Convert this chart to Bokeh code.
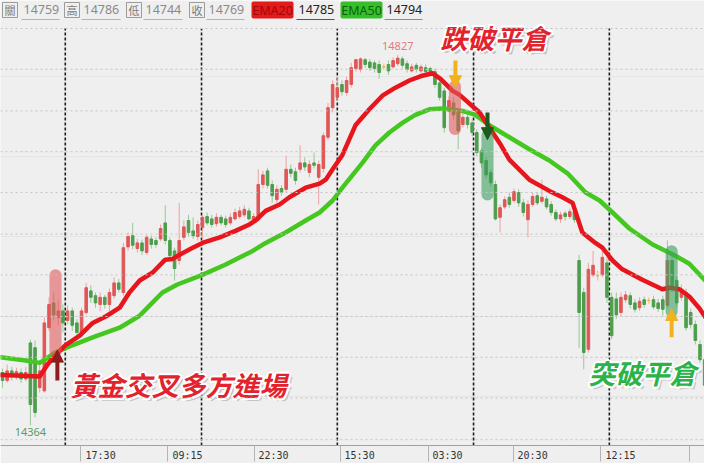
from bokeh.plotting import figure
from bokeh.models import Range1d, FixedTicker, Arrow, NormalHead, Span, Quad
from bokeh.core.properties import value
from bokeh.embed import file_html
from bokeh.resources import INLINE

# ---------------- data ----------------
opens = [14430, 14420, 14432, 14425, 14430, 14422, 14467, 14461, 14411, 14407,
         14486, 14517, 14499, 14507, 14495, 14507, 14492, 14480, 14505, 14532,
         14526, 14515, 14524, 14515, 14526, 14542, 14530, 14587, 14601, 14585,
         14592, 14580, 14597, 14595, 14597, 14617, 14595, 14582, 14570, 14599,
         14620, 14607, 14600, 14611, 14625, 14622, 14616, 14624, 14622, 14617,
         14622, 14625, 14627, 14632, 14620, 14621, 14665, 14682, 14665, 14646,
         14660, 14659, 14684, 14681, 14684, 14692, 14680, 14692, 14674, 14685,
         14724, 14761, 14774, 14790, 14780, 14790, 14810, 14809, 14821, 14818,
         14817, 14815, 14812, 14815, 14812, 14816, 14822, 14816, 14807, 14814,
         14807, 14811, 14810, 14806, 14792, 14782, 14757, 14767, 14755, 14740,
         14749, 14742, 14730, 14707, 14695, 14680, 14665, 14624, 14637, 14649,
         14645, 14655, 14642, 14621, 14640, 14651, 14644, 14647, 14640, 14630,
         14622, 14629, 14625, 14631, 14570, 14530, 14459, 14552, 14551, 14552,
         14567, 14524, 14522, 14505, 14521, 14526, 14517, 14511, 14521, 14520,
         14521, 14517, 14521, 14514, 14570, 14545, 14524, 14530, 14505, 14490,
         14465, 14446]
closes = [14420, 14432, 14425, 14431, 14422, 14430, 14390, 14380, 14432, 14492,
          14515, 14502, 14507, 14492, 14507, 14489, 14480, 14507, 14536, 14524,
          14517, 14524, 14515, 14530, 14542, 14534, 14586, 14600, 14589, 14592,
          14582, 14599, 14590, 14590, 14610, 14595, 14576, 14560, 14595, 14612,
          14605, 14601, 14615, 14624, 14617, 14615, 14624, 14617, 14615, 14624,
          14630, 14632, 14634, 14622, 14625, 14665, 14677, 14664, 14651, 14659,
          14655, 14684, 14679, 14670, 14692, 14687, 14690, 14689, 14690, 14726,
          14761, 14790, 14786, 14781, 14795, 14811, 14821, 14822, 14815, 14811,
          14810, 14805, 14812, 14807, 14820, 14823, 14814, 14809, 14812, 14809,
          14812, 14806, 14805, 14790, 14774, 14736, 14770, 14752, 14732, 14749,
          14740, 14730, 14705, 14692, 14677, 14667, 14622, 14636, 14646, 14640,
          14656, 14642, 14630, 14640, 14650, 14642, 14649, 14637, 14630, 14622,
          14627, 14625, 14631, 14621, 14505, 14455, 14559, 14564, 14551, 14574,
          14524, 14476, 14502, 14524, 14527, 14515, 14509, 14519, 14515, 14520,
          14512, 14510, 14509, 14570, 14534, 14517, 14534, 14486, 14490, 14470,
          14446, 14414]
highs = [14435, 14440, 14437, 14436, 14435, 14437, 14471, 14470, 14440, 14499,
         14524, 14530, 14520, 14515, 14514, 14511, 14497, 14511, 14542, 14539,
         14530, 14530, 14527, 14535, 14549, 14547, 14592, 14605, 14617, 14597,
         14596, 14602, 14601, 14599, 14615, 14639, 14599, 14586, 14642, 14620,
         14627, 14624, 14620, 14627, 14630, 14627, 14629, 14627, 14626, 14629,
         14635, 14637, 14639, 14636, 14629, 14684, 14682, 14686, 14670, 14664,
         14664, 14701, 14690, 14686, 14714, 14699, 14695, 14705, 14695, 14730,
         14767, 14795, 14799, 14795, 14800, 14817, 14822, 14824, 14823, 14822,
         14820, 14820, 14816, 14820, 14824, 14827, 14825, 14820, 14816, 14817,
         14815, 14815, 14812, 14810, 14796, 14786, 14775, 14774, 14759, 14755,
         14752, 14747, 14734, 14711, 14699, 14684, 14670, 14640, 14650, 14655,
         14660, 14659, 14647, 14645, 14655, 14655, 14671, 14651, 14644, 14634,
         14631, 14632, 14635, 14636, 14577, 14536, 14567, 14582, 14557, 14586,
         14574, 14530, 14530, 14530, 14532, 14530, 14522, 14524, 14525, 14524,
         14526, 14522, 14526, 14595, 14575, 14550, 14540, 14535, 14510, 14495,
         14470, 14451]
lows = [14411, 14417, 14420, 14421, 14417, 14419, 14364, 14374, 14405, 14405,
        14482, 14495, 14489, 14480, 14490, 14482, 14474, 14474, 14502, 14517,
        14511, 14507, 14510, 14507, 14522, 14530, 14526, 14582, 14584, 14580,
        14577, 14577, 14585, 14586, 14594, 14590, 14570, 14545, 14565, 14595,
        14600, 14597, 14595, 14590, 14614, 14611, 14612, 14614, 14611, 14614,
        14620, 14622, 14624, 14620, 14616, 14619, 14660, 14660, 14642, 14642,
        14651, 14655, 14674, 14665, 14680, 14682, 14674, 14685, 14640, 14680,
        14720, 14755, 14770, 14776, 14776, 14786, 14806, 14805, 14811, 14807,
        14805, 14797, 14809, 14802, 14810, 14813, 14810, 14805, 14805, 14805,
        14804, 14802, 14801, 14786, 14770, 14730, 14755, 14745, 14709, 14736,
        14735, 14725, 14700, 14686, 14672, 14662, 14620, 14605, 14634, 14636,
        14642, 14637, 14625, 14599, 14637, 14639, 14641, 14634, 14626, 14619,
        14617, 14620, 14622, 14617, 14461, 14434, 14455, 14549, 14545, 14549,
        14517, 14472, 14497, 14500, 14517, 14510, 14505, 14507, 14511, 14516,
        14509, 14506, 14501, 14510, 14530, 14512, 14520, 14482, 14485, 14465,
        14442, 14409]

# EMA curves (bar index, price)
ema20_x = [-0.4, 4.3, 8, 9.7, 11.4, 13.5, 16.6, 19.4, 22.2, 25.2, 27.3, 29.5, 32.3, 35, 36.6,
           38, 40.9, 43, 46.7, 50.1, 53.1, 54.4, 56.6, 59.6, 61.7, 65.2, 68.2, 69.5, 71, 73.1,
           75.9, 78.9, 81.7, 84.5, 87.5, 90.3, 92.5, 94.2, 96.8, 98.3, 102.6, 105.4, 106.9, 109,
           113.3, 117.6, 120.4, 122.6, 124.7, 127.5, 129, 131.2, 133.3, 137.6, 141.9, 143.4,
           145.6, 147.7, 149.9, 151.6]
ema20 = [14427, 14426, 14425, 14440, 14452, 14464, 14476, 14492, 14500, 14511, 14530, 14545,
         14555, 14571, 14572, 14577, 14586, 14592, 14599, 14607, 14615, 14620, 14632, 14640,
         14649, 14661, 14666, 14671, 14684, 14702, 14739, 14759, 14776, 14786, 14795, 14801,
         14804, 14797, 14782, 14777, 14755, 14730, 14717, 14696, 14671, 14657, 14649, 14642,
         14605, 14592, 14586, 14570, 14559, 14546, 14534, 14536, 14534, 14525, 14510, 14495]
ema50_x = [-0.4, 5, 8, 11.4, 15, 19.4, 25.2, 29.5, 34.4, 37.6, 43, 48, 53.8, 56.6, 60.9, 65.2,
           68.2, 71, 73.1, 77.4, 80.2, 83.2, 86, 88.8, 91.8, 94.6, 98.9, 101.7, 104.7, 109,
           113.3, 117.6, 121.5, 125.4, 128.4, 131.2, 134.8, 139.8, 144.7, 147.7, 151.6]
ema50 = [14449, 14445, 14442, 14455, 14464, 14474, 14486, 14501, 14530, 14540, 14552, 14565,
         14582, 14592, 14605, 14620, 14630, 14645, 14661, 14692, 14714, 14730, 14742, 14752,
         14759, 14760, 14757, 14752, 14739, 14724, 14709, 14695, 14679, 14655, 14645, 14630,
         14610, 14590, 14576, 14566, 14542]

# signal highlight boxes: bar index, top price, bottom price, colour
sig_x = [11.4, 97.3, 104.3, 143.9]
sig_top = [14559, 14795, 14734, 14589]
sig_bottom = [14449, 14727, 14645, 14499]
sig_color = ["#e05a5a", "#e05a5a", "#3a9f5a", "#3a9f5a"]

# signal arrows: bar index, start price, end price, colour
arr_x = [11.8, 97.4, 104.3, 143.9]
arr_y0 = [14420, 14820, 14755, 14474]
arr_y1 = [14458, 14786, 14721, 14510]
arr_color = ["#8e1c1c", "#f0b21e", "#1d5a1d", "#f0b21e"]

# big annotation texts
ann_text = ["黃金交叉多方進場", "跌破平倉", "突破平倉"]
ann_x = [14.6, 94.2, 126.0]
ann_y = [14415, 14849, 14430]
ann_color = ["#e2232d", "#e2232d", "#2bb34a"]

# session separators and time axis
day_breaks = [13.5, 42.8, 72.0, 101.3, 130.5]
tick_pos = [21.1, 39.8, 58.3, 76.8, 95.7, 114.0, 132.9]
tick_labels = ["17:30", "09:15", "22:30", "15:30", "03:30", "20:30", "12:15"]
sep_pos = [16.8, 35.5, 54.2, 72.7, 91.6, 109.9, 128.6, 147.7]
grid_levels = [14346, 14398, 14449, 14500, 14552, 14603, 14655, 14706, 14757, 14809, 14860]

# header legend
hdr_names = ["關", "高", "低", "收"]
hdr_values = ["14759", "14786", "14744", "14769"]
ema_names = ["EMA20", "EMA50"]
ema_values = ["14785", "14794"]

# ---------------- helpers for decoration placement ----------------
PX0, PXS = 10.0, 4.65


def X(px):
    return (px - PX0) / PXS


def Y(py):
    return 14905 - 1.25 * py


has_radius = "border_radius" in Quad.properties()

BG = "#efefef"
p = figure(frame_width=704, frame_height=445, x_range=Range1d(X(8), X(712)),
           y_range=Range1d(Y(453), Y(8)),
           output_backend="svg", toolbar_location=None, y_axis_location=None,
           min_border_left=0, min_border_right=0, min_border_top=0, min_border_bottom=0,
           background_fill_color=BG, border_fill_color=BG, outline_line_color=None)
p.xgrid.visible = False

# horizontal dotted grid
for lv in grid_levels:
    p.add_layout(Span(location=lv, dimension="width", line_color="#c4c4c4",
                      line_dash="2 3", line_width=1))

# session dashed lines
p.segment(x0=day_breaks, x1=day_breaks, y0=[Y(453)] * len(day_breaks),
          y1=[grid_levels[-1]] * len(day_breaks), line_color="#1e1e1e", line_width=1.6,
          line_dash="3 2")

# candles
N = len(closes)
xs = list(range(N))
body_top = [max(o, c) for o, c in zip(opens, closes)]
body_bot = [min(o, c) for o, c in zip(opens, closes)]
body_col = ["#e05656" if c > o else ("#4c9e4c" if c < o else "#e8ae2a") for o, c in zip(opens, closes)]
wick_col = ["#eda2a2" if c > o else ("#98c798" if c < o else "#e8c060") for o, c in zip(opens, closes)]
p.segment(x0=xs, x1=xs, y0=lows, y1=highs, line_color=wick_col, line_width=1)
p.vbar(x=xs, width=0.55, top=body_top, bottom=body_bot, fill_color=body_col,
       line_color=body_col, line_width=1)

# EMA lines
p.line(ema50_x, ema50, line_color="#44c820", line_width=4.5, line_join="round", line_cap="round")
p.line(ema20_x, ema20, line_color="#e8161c", line_width=4.5, line_join="round", line_cap="round")

# highlight boxes
qkw = dict(border_radius=6) if has_radius else {}
p.quad(left=[x - 1.3 for x in sig_x], right=[x + 1.3 for x in sig_x], top=sig_top,
       bottom=sig_bottom, fill_color=sig_color, fill_alpha=0.6, line_color=None, **qkw)

# arrows
for x, y0, y1, c in zip(arr_x, arr_y0, arr_y1, arr_color):
    p.add_layout(Arrow(end=NormalHead(size=12, fill_color=c, line_color=c, line_width=1),
                       x_start=x, y_start=y0, x_end=x, y_end=y1, line_color=c, line_width=4))

# max / min labels
hi_i = highs.index(max(highs))
lo_i = lows.index(min(lows))
p.text(x=[hi_i], y=[highs[hi_i]], text=[str(highs[hi_i])], text_font=value("Noto Sans"),
       text_font_size="11px", text_color="#e07c7c", text_align="center", text_baseline="bottom",
       y_offset=-5)
p.text(x=[lo_i], y=[lows[lo_i]], text=[str(lows[lo_i])], text_font=value("Noto Sans"),
       text_font_size="11px", text_color="#5c9c5c", text_align="center", text_baseline="top",
       y_offset=3)

# annotation texts: soft shadow, white halo, then coloured text
akw = dict(text_font=value("Noto Sans CJK TC"), text_font_style="bold italic",
           text_font_size="27px", text_align="left", text_baseline="middle")
p.text(x=ann_x, y=ann_y, text=ann_text, text_color="#777777", text_alpha=0.35,
       x_offset=3, y_offset=3, **akw)
for dx, dy in [(-2, 0), (2, 0), (0, -2), (0, 2), (-1.5, -1.5), (1.5, 1.5), (-1.5, 1.5), (1.5, -1.5)]:
    p.text(x=ann_x, y=ann_y, text=ann_text, text_color="white", x_offset=dx, y_offset=dy, **akw)
p.text(x=ann_x, y=ann_y, text=ann_text, text_color=ann_color, **akw)

# header legend row
box_l = [10, 72, 134, 197]
val_l = [31, 91, 153, 216]
val_w = [36, 37, 37, 36]
p.quad(left=[X(v) for v in box_l], right=[X(v + 15) for v in box_l], top=Y(10), bottom=Y(25),
       fill_color=None, line_color="#9c9c9c", line_width=1)
p.text(x=[X(v + 7.5) for v in box_l], y=Y(17.5), text=hdr_names, text_font=value("Noto Sans CJK TC"),
       text_font_size="11px", text_color="#7a7a7a", text_align="center", text_baseline="middle")
p.text(x=[X(v) for v in val_l], y=Y(17), text=hdr_values, text_font=value("Noto Sans"),
       text_font_size="12.5px", text_color="#8a8a8a", text_align="left", text_baseline="middle")
p.segment(x0=[X(v - 2) for v in val_l], x1=[X(v + w) for v, w in zip(val_l, val_w)],
          y0=Y(27), y1=Y(27), line_color="#b4b4b4", line_width=1)

ema_box_l = [259, 348]
ema_box_c = ["#e51b1b", "#35c02a"]
ema_txt_c = ["#9c0a0a", "#0f5e0f"]
ema_val_l = [306, 394]
p.quad(left=[X(v) for v in ema_box_l], right=[X(v + 42) for v in ema_box_l], top=Y(9), bottom=Y(26),
       fill_color=ema_box_c, line_color=None, **(dict(border_radius=2) if has_radius else {}))
p.text(x=[X(v + 21) for v in ema_box_l], y=Y(17.5), text=ema_names, text_font=value("Noto Sans"),
       text_font_size="12.5px", text_color=ema_txt_c, text_align="center", text_baseline="middle")
p.text(x=[X(v) for v in ema_val_l], y=Y(17), text=ema_values, text_font=value("Noto Sans"),
       text_font_size="12.5px", text_color="#222222", text_align="left", text_baseline="middle")
p.segment(x0=[X(v - 2) for v in ema_val_l], x1=[X(v + 36) for v in ema_val_l], y0=Y(27), y1=Y(27),
          line_color=["#e8161c", "#44c820"], line_width=1.2)

# time axis
ax = p.xaxis[0]
ax.ticker = FixedTicker(ticks=tick_pos, minor_ticks=sep_pos)
ax.major_label_overrides = {t: l for t, l in zip(tick_pos, tick_labels)}
ax.major_tick_line_color = None
ax.major_tick_out = 0
ax.major_tick_in = 0
ax.minor_tick_in = 0
ax.minor_tick_out = 16
ax.minor_tick_line_color = "#b4b4b4"
ax.axis_line_color = "#a0a0a0"
ax.major_label_text_font = "DejaVu Sans Mono"
ax.major_label_text_font_size = "10px"
ax.major_label_text_color = "#333333"
ax.major_label_standoff = -12

open("out.html", "w").write(file_html(p, INLINE))
